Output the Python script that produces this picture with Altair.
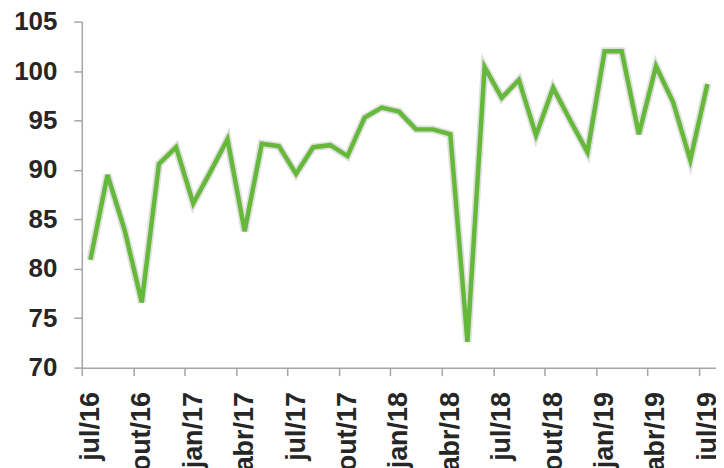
import altair as alt
import pandas as pd

months = ["jul", "ago", "set", "out", "nov", "dez", "jan", "fev", "mar", "abr", "mai", "jun"]
years = ["16"] * 6 + ["17"] * 12 + ["18"] * 12 + ["19"] * 7
labels = [f"{months[i % 12]}/{years[i]}" for i in range(37)]

values = [80.9, 89.5, 83.9, 76.6, 90.6, 92.3, 86.6, 89.8, 93.1, 83.8,
          92.65, 92.4, 89.6, 92.3, 92.5, 91.4, 95.3, 96.3, 95.9, 94.1,
          94.1, 93.6, 72.6, 100.4, 97.3, 99.1, 93.5, 98.3, 95.0, 91.8,
          102.0, 102.0, 93.6, 100.5, 96.85, 91.0, 98.7]

shown = labels[::3]

df = pd.DataFrame({"mes": labels, "valor": values})

half_band = 636 / 37 / 2

x_enc = alt.X("mes:N", sort=labels,
              scale=alt.Scale(type="band", domain=labels, paddingInner=0, paddingOuter=0),
              axis=alt.Axis(title=None, values=shown, labelAngle=-90,
                            tickOffset=-half_band, labelOffset=half_band,
                            labelFont="Liberation Sans", labelFontWeight="bold",
                            labelFontSize=27, labelColor="#262626",
                            labelPadding=16, tickSize=8, tickColor="#a6a6a6",
                            domainColor="#a6a6a6", domainWidth=1.5, tickWidth=1.5,
                            grid=False, labelOverlap=False))
y_enc = alt.Y("valor:Q",
              scale=alt.Scale(domain=[70, 105], nice=False, zero=False),
              axis=alt.Axis(title=None, values=[70, 75, 80, 85, 90, 95, 100, 105],
                            labelFont="Liberation Sans", labelFontWeight="bold",
                            labelFontSize=26, labelColor="#262626",
                            labelPadding=17, tickSize=8, tickColor="#a6a6a6",
                            domainColor="#a6a6a6", domainWidth=1.5, tickWidth=1.5,
                            grid=False))

shadow = alt.Chart(df).mark_line(
    color="#000000", opacity=0.12, strokeWidth=8, strokeJoin="miter"
).encode(x=x_enc, y=y_enc)

line = alt.Chart(df).mark_line(
    color="#66b83a", strokeWidth=4.5, strokeJoin="miter", strokeCap="butt"
).encode(x=x_enc, y=y_enc)

chart = alt.layer(shadow, line).properties(
    width=636, height=347,
    autosize=alt.AutoSizeParams(type="none"),
    padding={"left": 74, "top": 13, "right": 0, "bottom": 100},
).configure_view(stroke=None)

chart.save("out.html", embed_options={"renderer": "svg", "actions": False})
